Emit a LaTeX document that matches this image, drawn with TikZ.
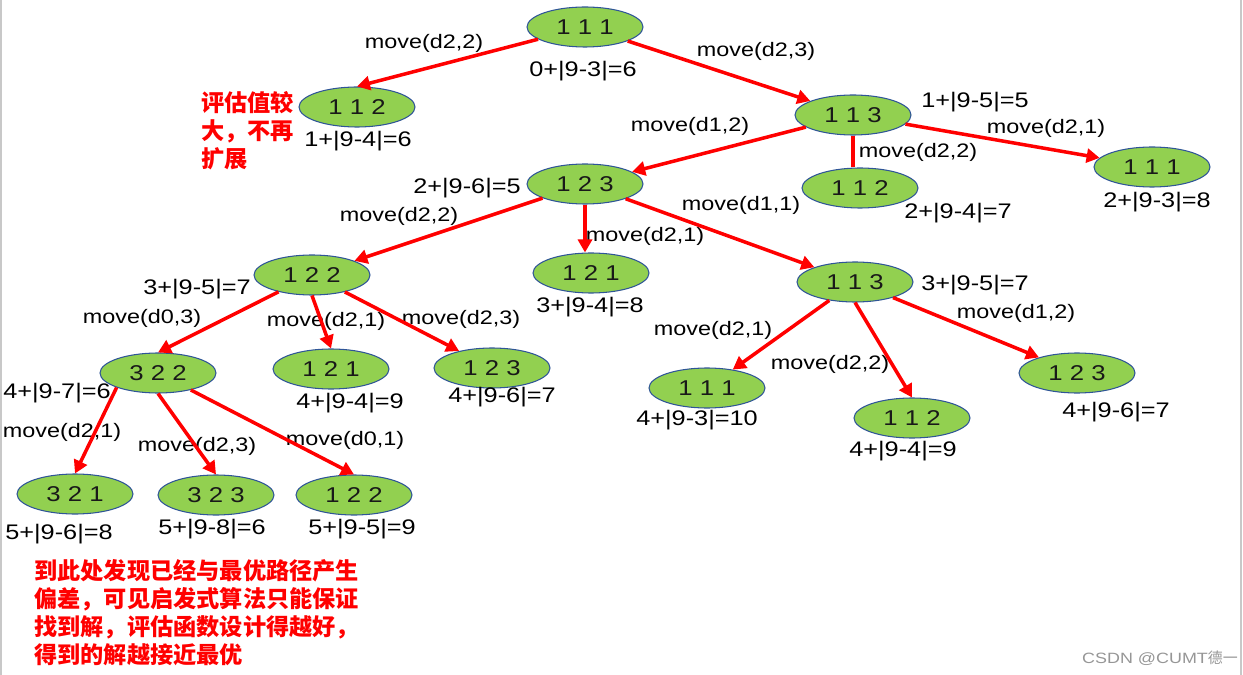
\documentclass[tikz,border=0pt]{standalone}
\usepackage{fontspec}
\setmainfont{Liberation Sans}[FakeStretch=1.2]
\newfontfamily\cjk{Noto Sans CJK SC}
\usetikzlibrary{
    arrows.meta,
    shapes.geometric
}
\definecolor{StateGreen}{RGB}{146,208,80}
\definecolor{StateEdge}{RGB}{47,85,151}
\definecolor{MoveRed}{RGB}{255,0,0}
\definecolor{MarkGray}{RGB}{150,150,150}
\definecolor{FrameGray}{RGB}{200,200,200}
\tikzset{
  state/.style = {ellipse, draw=StateEdge, fill=StateGreen, line width=0.6pt,
                  minimum width=2.32cm, minimum height=0.8cm, inner sep=0pt,
                  text=black!90, font=\fontsize{12.2}{14}\selectfont},
  cost/.style  = {inner sep=0pt, font=\fontsize{12}{14}\selectfont},
  mv/.style    = {inner sep=0pt, font=\fontsize{11.1}{13}\selectfont},
  note/.style  = {inner sep=0pt, align=left, text=MoveRed,
                  font=\cjk\bfseries\fontsize{13.2}{15.9}\selectfont},
  arr/.style   = {-{Triangle[length=2.6mm,width=2.8mm]}, MoveRed, line width=2pt},
  seg/.style   = {MoveRed, line width=2pt}
}

\begin{document}
\begin{tikzpicture}[x=0.02cm, y=-0.02cm]
\useasboundingbox (0,0) rectangle (1243,675);
\draw[FrameGray, line width=0.8pt] (1,0) -- (1,675);
\draw[FrameGray, line width=0.8pt] (1241,0) -- (1241,675);

% states
\node[state] (s111)  at (585,27)  {1 1 1};
\node[state] (s112a) at (357,107) {1 1 2};
\node[state] (s113)  at (853,115) {1 1 3};
\node[state] (s123)  at (585,184) {1 2 3};
\node[state] (s112b) at (860,188) {1 1 2};
\node[state] (s111b) at (1152,167) {1 1 1};
\node[state] (s122)  at (312,275) {1 2 2};
\node[state] (s121)  at (591,273) {1 2 1};
\node[state] (s113b) at (855,282) {1 1 3};
\node[state] (s322)  at (158,373) {3 2 2};
\node[state] (s121b) at (331,369) {1 2 1};
\node[state] (s123b) at (492,368) {1 2 3};
\node[state] (s111c) at (707,388) {1 1 1};
\node[state] (s112c) at (912,418) {1 1 2};
\node[state] (s123c) at (1077,373) {1 2 3};
\node[state] (s321)  at (75,494)  {3 2 1};
\node[state] (s323)  at (216,495) {3 2 3};
\node[state] (s122b) at (354,495) {1 2 2};

% evaluation values
\node[cost] (c111)  at (583,71)  {0+|9-3|=6};
\node[cost] (c112a) at (358,141) {1+|9-4|=6};
\node[cost] (c113)  at (975,102) {1+|9-5|=5};
\node[cost] (c123)  at (467,188) {2+|9-6|=5};
\node[cost] (c112b) at (958,213) {2+|9-4|=7};
\node[cost] (c111b) at (1157,202) {2+|9-3|=8};
\node[cost] (c122)  at (197,289) {3+|9-5|=7};
\node[cost] (c121)  at (590,307) {3+|9-4|=8};
\node[cost] (c113b) at (975,285) {3+|9-5|=7};
\node[cost] (c322)  at (57,393)  {4+|9-7|=6};
\node[cost] (c121b) at (350,403) {4+|9-4|=9};
\node[cost] (c123b) at (502,397) {4+|9-6|=7};
\node[cost] (c111c) at (697,420) {4+|9-3|=10};
\node[cost] (c112c) at (903,451) {4+|9-4|=9};
\node[cost] (c123c) at (1116,412) {4+|9-6|=7};
\node[cost] (c321)  at (59,534)  {5+|9-6|=8};
\node[cost] (c323)  at (212,529) {5+|9-8|=6};
\node[cost] (c122b) at (362,529) {5+|9-5|=9};

% moves
\node[mv] (m1)  at (424,43)  {move(d2,2)};
\node[mv] (m2)  at (756,51)  {move(d2,3)};
\node[mv] (m3)  at (690,126) {move(d1,2)};
\node[mv] (m4)  at (918,152) {move(d2,2)};
\node[mv] (m5)  at (1046,128) {move(d2,1)};
\node[mv] (m6)  at (399,216) {move(d2,2)};
\node[mv] (m7)  at (741,205) {move(d1,1)};
\node[mv] (m8)  at (645,236) {move(d2,1)};
\node[mv] (m9)  at (142,318) {move(d0,3)};
\node[mv] (m10) at (326,321) {move(d2,1)};
\node[mv] (m11) at (461,319) {move(d2,3)};
\node[mv] (m12) at (713,330) {move(d2,1)};
\node[mv] (m13) at (830,364) {move(d2,2)};
\node[mv] (m14) at (1016,313) {move(d1,2)};
\node[mv] (m15) at (62,432)  {move(d2,1)};
\node[mv] (m16) at (197,446) {move(d2,3)};
\node[mv] (m17) at (345,440) {move(d0,1)};

% connectors
\draw[arr] (s111) -- (s112a.north);
\draw[arr] (s111) -- (s113);
\draw[arr] (s113) -- (s123);
\draw[seg] (s113) -- (s113 |- s112b.north);
\draw[arr] (s113) -- (s111b);
\draw[arr] (s123) -- (s122);
\draw[arr] (s123) -- (s123 |- s121.north);
\draw[arr] (s123) -- (s113b);
\draw[arr] (s122) -- (s322.north);
\draw[arr] (s122.south) -- (s121b.north);
\draw[arr] (s122) -- (s123b);
\draw[arr] (s113b) -- (s111c);
\draw[arr] (s113b.south) -- (s112c.north);
\draw[arr] (s113b) -- (s123c);
\draw[arr] (s322.south west) -- (s321.north);
\draw[arr] (s322.south) -- (s323.north);
\draw[arr] (s322) -- (s122b.north);

% remarks
\node[note, anchor=north west] (r1) at (201,91)
  {评估值较\\大，不再\\扩展};
\node[note, anchor=north west] (r2) at (34,559)
  {到此处发现已经与最优路径产生\\偏差，可见启发式算法只能保证\\找到解，评估函数设计得越好，\\得到的解越接近最优};

\node[inner sep=0pt, text=MarkGray, font=\fontsize{8.5}{10}\selectfont]
  (mark) at (1160,658) {CSDN @CUMT{\cjk 德一}};
\end{tikzpicture}
\end{document}
